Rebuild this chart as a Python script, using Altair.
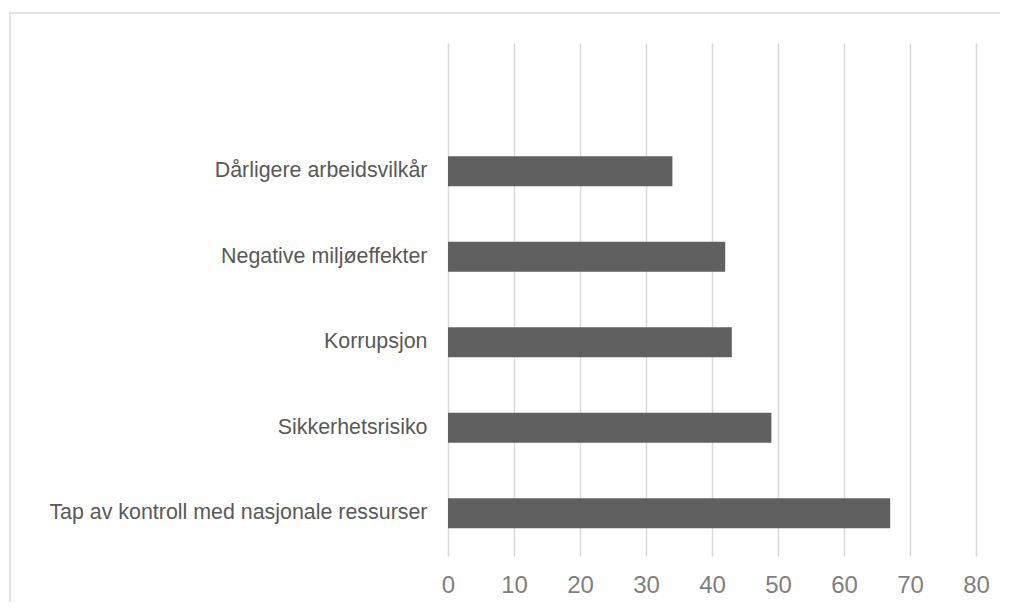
import altair as alt
import pandas as pd

categories = ["Dårligere arbeidsvilkår", "Negative miljøeffekter", "Korrupsjon",
              "Sikkerhetsrisiko", "Tap av kontroll med nasjonale ressurser"]
values = [34, 42, 43, 49, 67]
x_ticks = [0, 10, 20, 30, 40, 50, 60, 70, 80]

df = pd.DataFrame({"kategori": categories, "verdi": values})
domain = [" "] + categories

FONT = "Liberation Sans"

bars = alt.Chart(df).mark_bar(color="#606060", size=30).encode(
    x=alt.X("verdi:Q", scale=alt.Scale(domain=[0, 80]),
            axis=alt.Axis(values=x_ticks, title=None, domain=False, ticks=False,
                          grid=True, gridColor="#d9d9d9", gridWidth=1.5,
                          labelFontSize=24, labelColor="#7f7f7f", labelFont=FONT,
                          labelPadding=17, labelFlush=False)),
    y=alt.Y("kategori:N", sort=domain, scale=alt.Scale(domain=domain),
            axis=alt.Axis(title=None, domain=False, ticks=False, grid=False,
                          labelFontSize=21.4, labelColor="#595959", labelFont=FONT,
                          labelPadding=21, labelLimit=500)),
)

border = alt.Chart(pd.DataFrame({"b": [0]})).mark_rect(
    fill="transparent", stroke="#d9d9d9", strokeWidth=1.5
).encode(
    x=alt.value(-438), x2=alt.value(700), y=alt.value(-30), y2=alt.value(700)
)

chart = alt.layer(border, bars).properties(
    width=528, height=513,
    autosize=alt.AutoSizeParams(type="none"),
    padding={"left": 440, "top": 35, "right": 24, "bottom": 46},
).configure_view(stroke=None)

chart.save("out.html", embed_options={"renderer": "svg", "actions": False})
